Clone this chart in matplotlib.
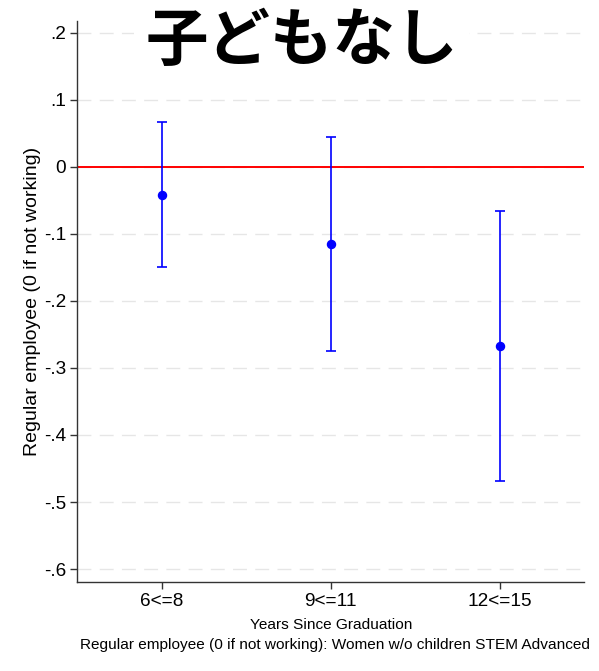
import matplotlib
matplotlib.use("Agg")
import matplotlib.pyplot as plt
import numpy as np

# Estimates by years since graduation
categories = ["6<=8", "9<=11", "12<=15"]
estimates = [-0.042, -0.115, -0.267]
ci_lower = [-0.150, -0.274, -0.468]
ci_upper = [0.067, 0.045, -0.066]
yticks = [0.2, 0.1, 0.0, -0.1, -0.2, -0.3, -0.4, -0.5, -0.6]
ytick_labels = [".2", ".1", "0", "-.1", "-.2", "-.3", "-.4", "-.5", "-.6"]

title_text = "子どもなし"
ylabel_text = "Regular employee (0 if not working)"
xlabel_text = "Years Since Graduation"
note_text = "Regular employee (0 if not working): Women w/o children STEM Advanced"

plt.rcParams["font.family"] = ["Liberation Sans", "DejaVu Sans"]

W, H = 599, 671
fig = plt.figure(figsize=(W / 100, H / 100), dpi=100)
ax = fig.add_axes([77 / W, 1 - 582 / H, (584 - 77) / W, (582 - 21) / H])

x = np.arange(1, len(categories) + 1)
est = np.array(estimates)
lo = np.array(ci_lower)
hi = np.array(ci_upper)

# horizontal dashed grid
for yv in yticks:
    ax.axhline(yv, color="#e6e6e6", lw=1.0, ls=(0, (10, 6)), zorder=1)

# reference line at zero
ax.axhline(0, color="#ff0000", lw=1.4, zorder=2)

ax.errorbar(x, est, yerr=[est - lo, hi - est], fmt="o", color="#0000ff",
            ecolor="#0000ff", elinewidth=1.2, capsize=3.5, capthick=1.2,
            markersize=5.8, zorder=3)

ax.set_xlim(0.5, 3.5)
ax.set_ylim(-0.6194, 0.2179)
ax.set_xticks(x)
ax.set_xticklabels(categories, fontsize=13.7)
ax.set_yticks(yticks)
ax.set_yticklabels(ytick_labels, fontsize=13.7)

for side in ["top", "right"]:
    ax.spines[side].set_visible(False)
for side in ["left", "bottom"]:
    ax.spines[side].set_color("#333333")
    ax.spines[side].set_linewidth(1.0)
ax.tick_params(axis="both", direction="out", length=5, width=1.0,
               color="#333333", pad=3)

ax.set_ylabel(ylabel_text, fontsize=14)
ax.yaxis.set_label_coords(-(77 - 41) / (584 - 77), 0.5)

fig.text(331 / W, 1 - 625 / H, xlabel_text, fontsize=11.1,
         ha="center", va="center")
fig.text(80 / W, 1 - 645 / H, note_text, fontsize=11.1,
         ha="left", va="center")

fig.text(301.5 / W, 1 - 41 / H, title_text, fontsize=45, fontweight="bold",
         family=["Noto Sans CJK JP", "DejaVu Sans"], ha="center", va="center",
         bbox=dict(facecolor="white", edgecolor="none", pad=8), zorder=5)

fig.savefig("out.png", dpi=100)
